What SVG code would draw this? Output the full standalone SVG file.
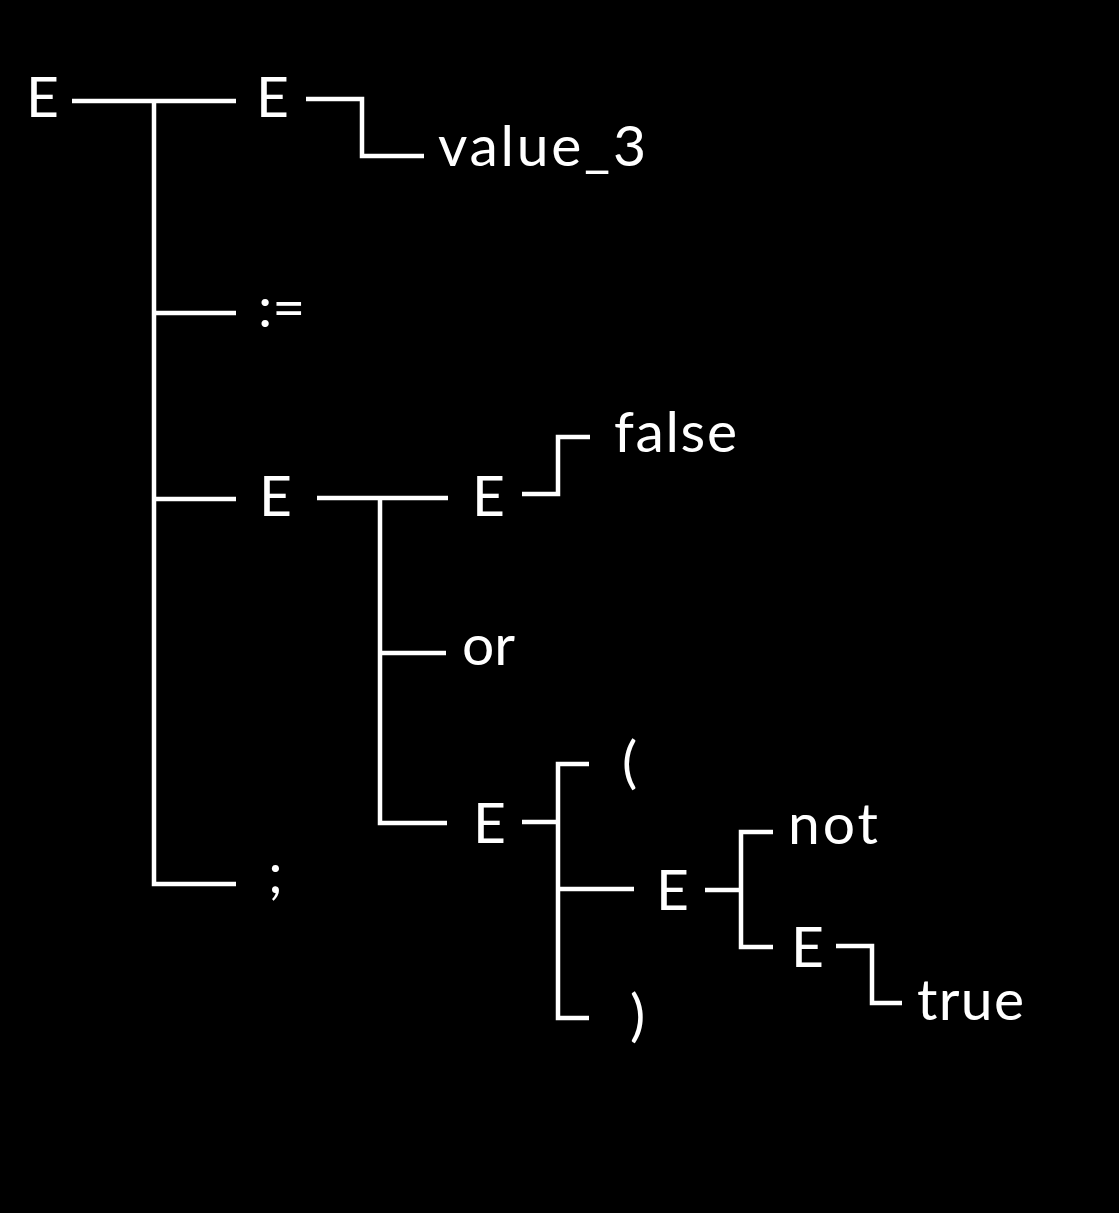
<svg xmlns="http://www.w3.org/2000/svg" width="1119" height="1213" viewBox="0 0 1119 1213">
<style>
.t{font-family:Lato,"Open Sans","Liberation Sans",sans-serif;font-size:57px;fill:#fff}
.c{fill:none;stroke:#fff;stroke-width:4.5;stroke-linejoin:miter;stroke-linecap:butt}
</style>
<rect width="1119" height="1213" fill="#000"/>
<g id="connectors" class="c">
<path d="M72,101 H236 M154,101 V884 H236 M154,313 H236 M154,499 H236"/>
<path d="M306,99 H362 V156 H424"/>
<path d="M317,498 H448 M380,498 V823 H447 M380,653 H446"/>
<path d="M522,494 H558 V437 H590"/>
<path d="M522,822 H558 M589,764 H558 V1018 H589 M558,889 H634"/>
<path d="M705,890 H741 M773,832 H741 V947 H773"/>
<path d="M836,946 H872 V1003 H902"/>
</g>
<g id="n-root"><text class="t" x="26" y="117">E</text></g>
<g id="n-e2"><text class="t" x="256" y="117">E</text></g>
<g id="n-value3"><text class="t" x="438" y="166" textLength="208">value_3</text></g>
<g id="n-assign"><text class="t" x="258" y="327">:=</text></g>
<g id="n-e3"><text class="t" x="259" y="516">E</text></g>
<g id="n-e4"><text class="t" x="472" y="516">E</text></g>
<g id="n-false"><text class="t" x="614" y="452" textLength="123">false</text></g>
<g id="n-or"><text class="t" x="462" y="665">or</text></g>
<g id="n-semi"><text class="t" x="268" y="893">;</text></g>
<g id="n-e5"><text class="t" x="473" y="843">E</text></g>
<g id="n-lparen"><text class="t" x="622" y="782">(</text></g>
<g id="n-rparen"><text class="t" x="630" y="1035">)</text></g>
<g id="n-e6"><text class="t" x="656" y="910">E</text></g>
<g id="n-not"><text class="t" x="788" y="844" textLength="90">not</text></g>
<g id="n-e7"><text class="t" x="791" y="967">E</text></g>
<g id="n-true"><text class="t" x="917" y="1020" textLength="107">true</text></g>
</svg>
